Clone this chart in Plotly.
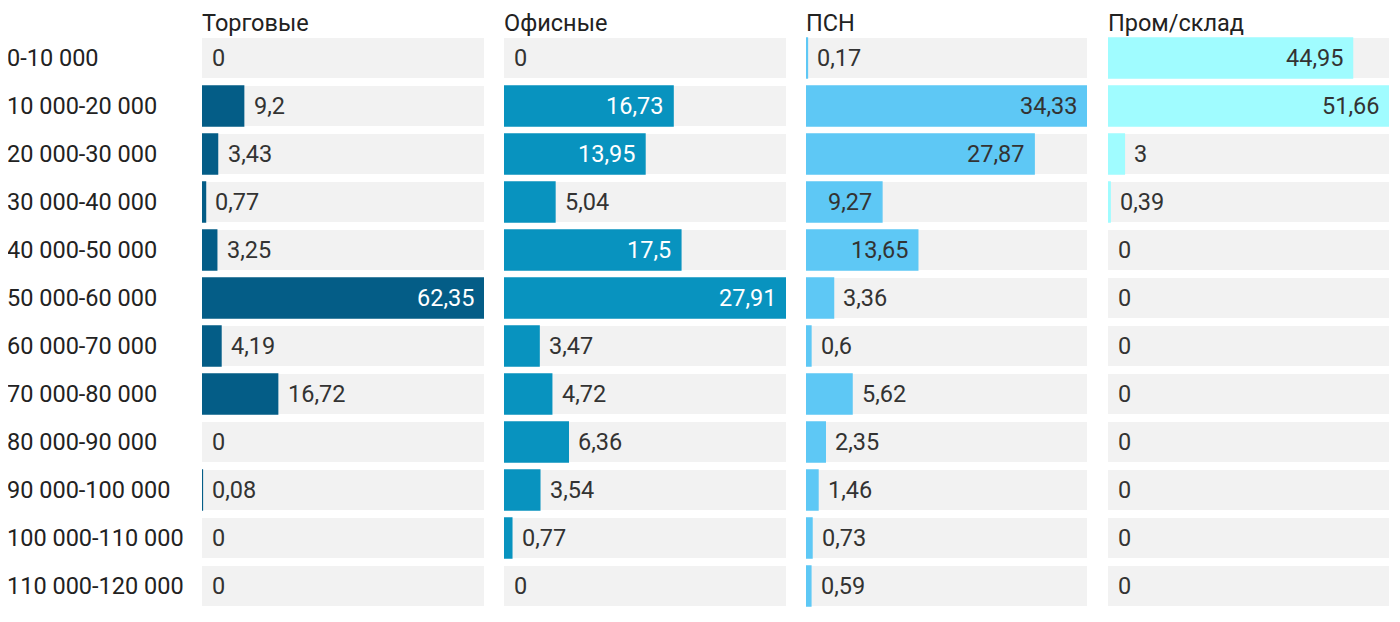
import plotly.graph_objects as go

categories = ["0-10 000", "10 000-20 000", "20 000-30 000", "30 000-40 000",
              "40 000-50 000", "50 000-60 000", "60 000-70 000", "70 000-80 000",
              "80 000-90 000", "90 000-100 000", "100 000-110 000", "110 000-120 000"]
panel_titles = ["Торговые", "Офисные", "ПСН", "Пром/склад"]
torgovye = [0, 9.2, 3.43, 0.77, 3.25, 62.35, 4.19, 16.72, 0, 0.08, 0, 0]
ofisnye = [0, 16.73, 13.95, 5.04, 17.5, 27.91, 3.47, 4.72, 6.36, 3.54, 0.77, 0]
psn = [0.17, 34.33, 27.87, 9.27, 13.65, 3.36, 0.6, 5.62, 2.35, 1.46, 0.73, 0.59]
prom = [44.95, 51.66, 3, 0.39, 0, 0, 0, 0, 0, 0, 0, 0]

series = [torgovye, ofisnye, psn, prom]
colors = ["#045d87", "#0893bf", "#5ec8f5", "#a0fcff"]
inside_text_colors = ["#ffffff", "#ffffff", "#333333", "#333333"]
W, H = 1400, 622
FONT = "Roboto"
FS = 23.5
# page offset of 8px (default body margin) compensated in the layout
OFF = 8
domains_px = [(202, 484), (504, 786), (806, 1087), (1108, 1389)]

fig = go.Figure()
annotations = []


def fmt(v):
    return ("%g" % v).replace(".", ",")


for i, vals in enumerate(series):
    xa = "x" if i == 0 else "x%d" % (i + 1)
    xname = "xaxis" if i == 0 else "xaxis%d" % (i + 1)
    vmax = max(vals)
    d0, d1 = domains_px[i]
    d0 -= OFF
    d1 -= OFF
    fig.add_trace(go.Bar(
        y=categories, x=[vmax] * len(categories), orientation="h",
        marker=dict(color="#f2f2f2", line=dict(width=0)),
        width=0.833, xaxis=xa, yaxis="y", hoverinfo="skip", showlegend=False))
    fig.add_trace(go.Bar(
        y=categories, x=vals, orientation="h",
        marker=dict(color=colors[i],
                    line=dict(color=colors[i], width=[1.5 if v > 0 else 0 for v in vals])),
        width=0.833, xaxis=xa, yaxis="y", showlegend=False))
    fig.layout[xname] = dict(domain=[d0 / W, d1 / W], range=[0, vmax],
                             visible=False, fixedrange=True)
    pxw = d1 - d0
    for c, v in zip(categories, vals):
        t = fmt(v)
        barpx = v / vmax * pxw
        textw = len(t) * 12
        if barpx > textw + 20:
            annotations.append(dict(x=v, y=c, xref=xa, yref="y", text=t,
                                    showarrow=False, xanchor="right", xshift=-8,
                                    font=dict(family=FONT, size=FS, color=inside_text_colors[i])))
        else:
            annotations.append(dict(x=v, y=c, xref=xa, yref="y", text=t,
                                    showarrow=False, xanchor="left", xshift=8,
                                    font=dict(family=FONT, size=FS, color="#333333")))
    annotations.append(dict(x=d0 / W, y=1, xref="paper", yref="paper", text=panel_titles[i],
                            showarrow=False, xanchor="left", yanchor="bottom", yshift=-5,
                            xshift=-2,
                            font=dict(family=FONT, size=FS, color="#222222")))

for c in categories:
    annotations.append(dict(x=0, y=c, xref="paper", yref="y", text=c,
                            showarrow=False, xanchor="left", xshift=-3,
                            font=dict(family=FONT, size=FS, color="#222222")))

fig.update_layout(
    width=W, height=H,
    margin=dict(l=0, r=0, t=34 - OFF, b=12 + OFF),
    barmode="overlay",
    paper_bgcolor="white", plot_bgcolor="white",
    yaxis=dict(categoryorder="array", categoryarray=categories,
               range=[11.5, -0.5], visible=False, fixedrange=True),
    annotations=annotations,
    font=dict(family=FONT, size=FS, color="#333333"),
)

fig.write_html("out.html")
